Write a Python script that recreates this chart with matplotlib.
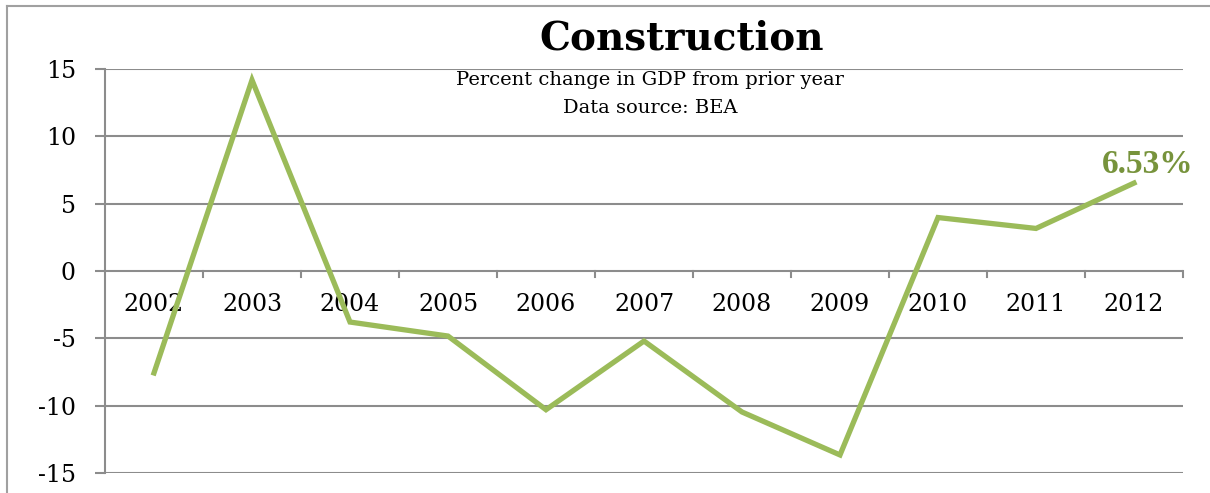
import matplotlib
matplotlib.use("Agg")
import matplotlib.pyplot as plt
from matplotlib.lines import Line2D

years = ["2002", "2003", "2004", "2005", "2006", "2007",
         "2008", "2009", "2010", "2011", "2012"]
pct_change = [-7.57, 14.18, -3.79, -4.83, -10.30, -5.20,
              -10.47, -13.66, 3.97, 3.16, 6.53]
y_ticks = [15, 10, 5, 0, -5, -10, -15]
last_label = "6.53%"

W, H = 1210, 493
fig = plt.figure(figsize=(W / 100, H / 100), dpi=100)
plt.rcParams["font.family"] = ["DejaVu Serif"]

grid_col = "#8c8c8c"
line_col = "#9bbb59"
label_col = "#77933c"
frame_col = "#a0a0a0"

# outer chart frame: left and top edges
fig.lines.append(Line2D([7 / W, 7 / W], [-0.05, 1 - 6 / H], transform=fig.transFigure,
                        color=frame_col, linewidth=1.5))
fig.lines.append(Line2D([7 / W, 1.05], [1 - 6 / H, 1 - 6 / H], transform=fig.transFigure,
                        color=frame_col, linewidth=1.5))

left, right = 105 / W, 1183 / W
top, bottom = 1 - 69 / H, 1 - 473 / H
ax = fig.add_axes([left, bottom, right - left, top - bottom])

n = len(years)
ax.set_xlim(0, n)
ax.set_ylim(-15, 15)
xs = [i + 0.5 for i in range(n)]

for v in y_ticks:
    ax.axhline(v, color=grid_col, linewidth=1.5, zorder=1)

ax.plot(xs, pct_change, color=line_col, linewidth=3.8,
        solid_joinstyle="miter", zorder=3)

for s in ["top", "right", "bottom"]:
    ax.spines[s].set_visible(False)
ax.spines["left"].set_color(grid_col)
ax.spines["left"].set_linewidth(1.5)

ax.set_yticks(y_ticks)
ax.set_yticklabels([str(v) for v in y_ticks], fontsize=17)
ax.tick_params(axis="y", length=7, width=1.5, color=grid_col, pad=14)

# category ticks along the zero line
ax.set_xticks([])
for i in range(1, n + 1):
    ax.plot([i, i], [0, -0.45], color=grid_col, linewidth=1.5,
            clip_on=False, zorder=1)
for x, lab in zip(xs, years):
    ax.text(x, -2.5, lab, ha="center", va="center", fontsize=17, zorder=2)

fig.text(682 / W, 1 - 39 / H, "Construction", ha="center", va="center",
         fontsize=28, fontweight="bold")
fig.text(650 / W, 1 - 80 / H, "Percent change in GDP from prior year",
         ha="center", va="center", fontsize=14)
fig.text(650 / W, 1 - 108 / H, "Data source: BEA",
         ha="center", va="center", fontsize=14)

ax.annotate(last_label, (xs[-1], pct_change[-1]), xytext=(9.5, 13.5),
            textcoords="offset points", ha="center", va="center",
            fontsize=24, fontweight="bold", color=label_col,
            family=["Liberation Serif"], annotation_clip=False)

fig.savefig("out.png", dpi=100)
